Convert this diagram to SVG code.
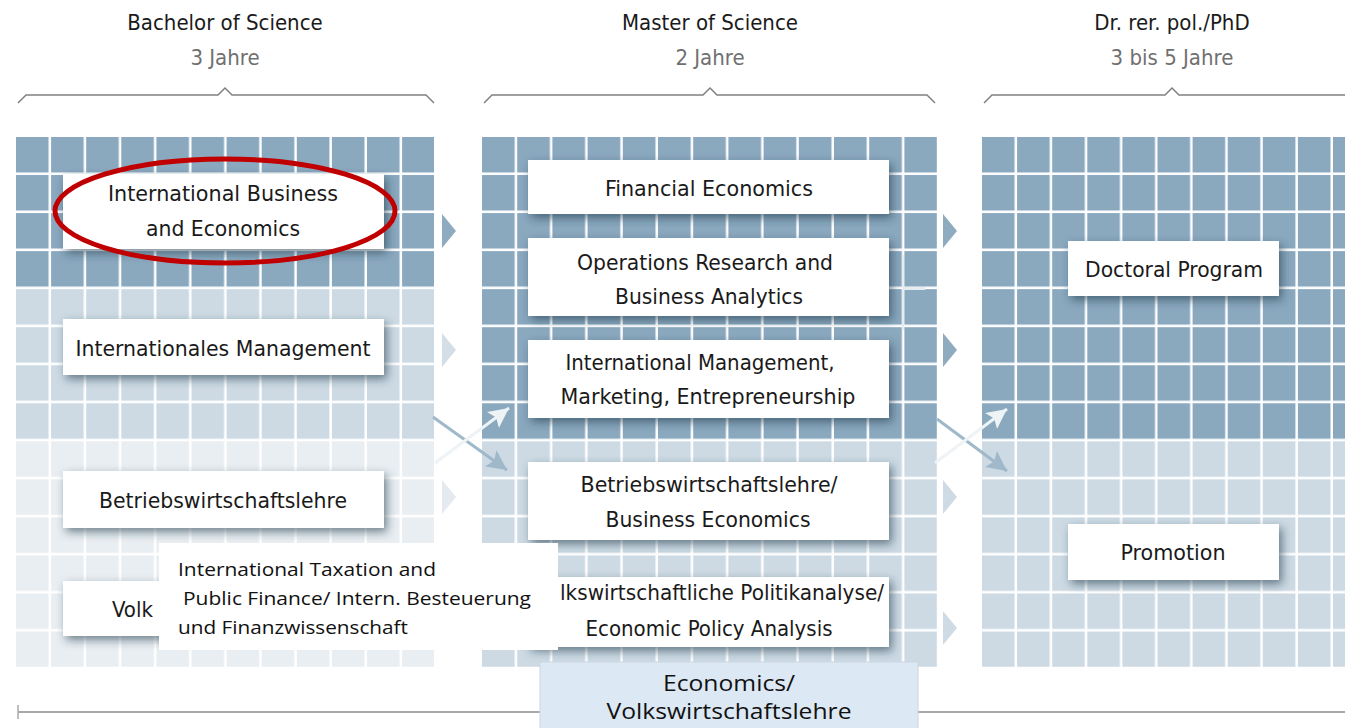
<svg xmlns="http://www.w3.org/2000/svg" width="1345" height="728" viewBox="0 0 1345 728">
<defs>
<style>
.hd{font-family:"Liberation Sans Narrow","DejaVu Sans Condensed","Liberation Sans",sans-serif;font-size:22px;fill:#1a1a1a;text-anchor:middle}
.sub{font-family:"Liberation Sans Narrow","DejaVu Sans Condensed","Liberation Sans",sans-serif;font-size:22px;fill:#707070;text-anchor:middle}
.bt{font-family:"Liberation Sans Narrow","DejaVu Sans Condensed","Liberation Sans",sans-serif;font-size:22px;fill:#1a1a1a;text-anchor:middle}
.cal{font-family:"Open Sans","Liberation Sans",sans-serif;font-size:18px;fill:#111}
.box{fill:#fff;filter:url(#sh)}
.brace{fill:none;stroke:#808080;stroke-width:1.5}
.dark{fill:#8aa8be}
.med{fill:#cddae4}
.lite{fill:#e9eef2}
</style>
<filter id="sh" x="-20%" y="-40%" width="140%" height="190%">
<feDropShadow dx="3" dy="4" stdDeviation="5" flood-color="#24384a" flood-opacity="0.6"/>
</filter>
<pattern id="gL" patternUnits="userSpaceOnUse" x="16" y="137" width="35.1" height="38.04">
<rect x="32.6" y="0" width="2.5" height="38.04" fill="#fff"/><rect x="0" y="35.5" width="35.1" height="2.54" fill="#fff"/>
</pattern>
<pattern id="gM" patternUnits="userSpaceOnUse" x="482" y="137" width="35.2" height="38.04">
<rect x="32.7" y="0" width="2.5" height="38.04" fill="#fff"/><rect x="0" y="35.5" width="35.2" height="2.54" fill="#fff"/>
</pattern>
<pattern id="gR" patternUnits="userSpaceOnUse" x="982" y="137" width="35.1" height="38.04">
<rect x="32.6" y="0" width="2.5" height="38.04" fill="#fff"/><rect x="0" y="35.5" width="35.1" height="2.54" fill="#fff"/>
</pattern>
<marker id="mDown" markerUnits="userSpaceOnUse" markerWidth="24" markerHeight="24" refX="20" refY="10" orient="auto"><path d="M0,0 L20,10 L0,20 L4,10 Z" fill="#9fb8ca"/></marker>
<marker id="mUp" markerUnits="userSpaceOnUse" markerWidth="24" markerHeight="24" refX="20" refY="10" orient="auto"><path d="M0,0 L20,10 L0,20 L4,10 Z" fill="#eef3f6"/></marker>
</defs>
<rect width="1345" height="728" fill="#fff"/>

<g id="headers">
<text class="hd" x="225" y="30">Bachelor of Science</text>
<text class="sub" x="225" y="65">3 Jahre</text>
<path class="brace" d="M18,103 L26,95 L218,95 L225,88 L232,95 L426,95 L434,103"/>
<text class="hd" x="710" y="30">Master of Science</text>
<text class="sub" x="710" y="65">2 Jahre</text>
<path class="brace" d="M484,103 L492,95 L703,95 L710,88 L717,95 L927,95 L935,103"/>
<text class="hd" x="1172" y="30">Dr. rer. pol./PhD</text>
<text class="sub" x="1172" y="65">3 bis 5 Jahre</text>
<path class="brace" d="M984,103 L992,95 L1165,95 L1172,88 L1179,95 L1345,95"/>
</g>

<g id="panels">
<rect class="dark" x="16" y="137" width="418" height="152"/>
<rect class="med" x="16" y="289" width="418" height="152"/>
<rect class="lite" x="16" y="441" width="418" height="226"/>
<rect x="16" y="137" width="418" height="530" fill="url(#gL)"/>
<rect class="dark" x="482" y="137" width="455" height="304"/>
<rect class="med" x="482" y="441" width="455" height="226"/>
<rect x="482" y="137" width="455" height="530" fill="url(#gM)"/>
<rect class="dark" x="982" y="137" width="363" height="304"/>
<rect class="med" x="982" y="441" width="363" height="226"/>
<rect x="982" y="137" width="363" height="530" fill="url(#gR)"/>
<rect x="902" y="255" width="2" height="75" fill="#e6ecf0"/>
<rect x="903" y="287" width="22" height="3" fill="#e6ecf0"/>
</g>

<g id="connectors">
<path d="M442,214 L456,231 L442,248 Z" fill="#8eabc0"/>
<path d="M442,333 L456,350 L442,367 Z" fill="#d3dee7"/>
<path d="M442,480 L456,497 L442,514 Z" fill="#e4eaef"/>
<path d="M442,611 L456,628 L442,645 Z" fill="#e4eaef"/>
<path d="M943,214 L957,231 L943,248 Z" fill="#8eabc0"/>
<path d="M943,333 L957,350 L943,367 Z" fill="#8eabc0"/>
<path d="M943,480 L957,497 L943,514 Z" fill="#cfdbe4"/>
<path d="M943,611 L957,628 L943,645 Z" fill="#cfdbe4"/>
<line x1="433" y1="417" x2="507" y2="470" stroke="#9fb8ca" stroke-width="3" marker-end="url(#mDown)"/>
<line x1="435" y1="463" x2="509" y2="408" stroke="#eef3f6" stroke-width="3" marker-end="url(#mUp)"/>
<line x1="937" y1="419" x2="1007" y2="471" stroke="#9fb8ca" stroke-width="3" marker-end="url(#mDown)"/>
<line x1="935" y1="463" x2="1007" y2="409" stroke="#eef3f6" stroke-width="3" marker-end="url(#mUp)"/>
</g>

<g id="node-ibe">
<rect class="box" x="63" y="174" width="321" height="75"/>
<text class="bt" x="223" y="201" textLength="230" lengthAdjust="spacingAndGlyphs">International Business</text>
<text class="bt" x="223" y="236" textLength="154" lengthAdjust="spacingAndGlyphs">and Economics</text>
<ellipse cx="225" cy="211" rx="170" ry="52" fill="none" stroke="#c00000" stroke-width="5"/>
</g>
<g id="node-im">
<rect class="box" x="63" y="319" width="321" height="56"/>
<text class="bt" x="223" y="356" textLength="295" lengthAdjust="spacingAndGlyphs">Internationales Management</text>
</g>
<g id="node-bwl">
<rect class="box" x="63" y="471" width="321" height="57"/>
<text class="bt" x="223" y="508" textLength="248" lengthAdjust="spacingAndGlyphs">Betriebswirtschaftslehre</text>
</g>
<g id="node-vwl">
<rect class="box" x="63" y="581" width="321" height="55"/>
<text class="bt" x="112" y="617" style="text-anchor:start">Volk</text>
</g>

<g id="node-fe">
<rect class="box" x="528" y="160" width="361" height="54"/>
<text class="bt" x="709" y="196" textLength="208" lengthAdjust="spacingAndGlyphs">Financial Economics</text>
</g>
<g id="node-or">
<rect class="box" x="528" y="238" width="361" height="78"/>
<text class="bt" x="705" y="270" textLength="256" lengthAdjust="spacingAndGlyphs">Operations Research and</text>
<text class="bt" x="709" y="304" textLength="188" lengthAdjust="spacingAndGlyphs">Business Analytics</text>
</g>
<g id="node-imme">
<rect class="box" x="528" y="340" width="361" height="78"/>
<text class="bt" x="700" y="370" textLength="269" lengthAdjust="spacingAndGlyphs">International Management,</text>
<text class="bt" x="708" y="404" textLength="295" lengthAdjust="spacingAndGlyphs">Marketing, Entrepreneurship</text>
</g>
<g id="node-bwlbe">
<rect class="box" x="528" y="462" width="361" height="78"/>
<text class="bt" x="709" y="492" textLength="257" lengthAdjust="spacingAndGlyphs">Betriebswirtschaftslehre/</text>
<text class="bt" x="708" y="527" textLength="205" lengthAdjust="spacingAndGlyphs">Business Economics</text>
</g>
<g id="node-vpa">
<rect class="box" x="528" y="577" width="361" height="70"/>
<text class="bt" x="722" y="600" textLength="324" lengthAdjust="spacingAndGlyphs">lkswirtschaftliche Politikanalyse/</text>
<text class="bt" x="709" y="636" textLength="247" lengthAdjust="spacingAndGlyphs">Economic Policy Analysis</text>
</g>

<g id="node-doc">
<rect class="box" x="1068" y="241" width="211" height="55"/>
<text class="bt" x="1174" y="277" textLength="178" lengthAdjust="spacingAndGlyphs">Doctoral Program</text>
</g>
<g id="node-promo">
<rect class="box" x="1068" y="524" width="211" height="56"/>
<text class="bt" x="1173" y="560" textLength="105" lengthAdjust="spacingAndGlyphs">Promotion</text>
</g>

<g id="node-itpf">
<rect x="159" y="543" width="399" height="107" fill="#fff"/>
<text class="cal" x="178" y="576" textLength="258" lengthAdjust="spacingAndGlyphs">International Taxation and</text>
<text class="cal" x="183" y="605" textLength="348" lengthAdjust="spacingAndGlyphs">Public Finance/ Intern. Besteuerung</text>
<text class="cal" x="178" y="634" textLength="230" lengthAdjust="spacingAndGlyphs">und Finanzwissenschaft</text>
</g>

<g id="baseline">
<line x1="18" y1="712" x2="1345" y2="712" stroke="#a8a8a8" stroke-width="2"/>
<line x1="18" y1="705" x2="18" y2="719" stroke="#a8a8a8" stroke-width="1.5"/>
</g>

<g id="node-econ">
<rect x="540" y="662" width="378" height="70" fill="#dce8f4" stroke="#c9d6e2" stroke-width="1"/>
<text class="cal" x="729" y="691" style="text-anchor:middle;font-size:22px" textLength="132" lengthAdjust="spacingAndGlyphs">Economics/</text>
<text class="cal" x="729" y="719" style="text-anchor:middle;font-size:22px" textLength="245" lengthAdjust="spacingAndGlyphs">Volkswirtschaftslehre</text>
</g>
</svg>
